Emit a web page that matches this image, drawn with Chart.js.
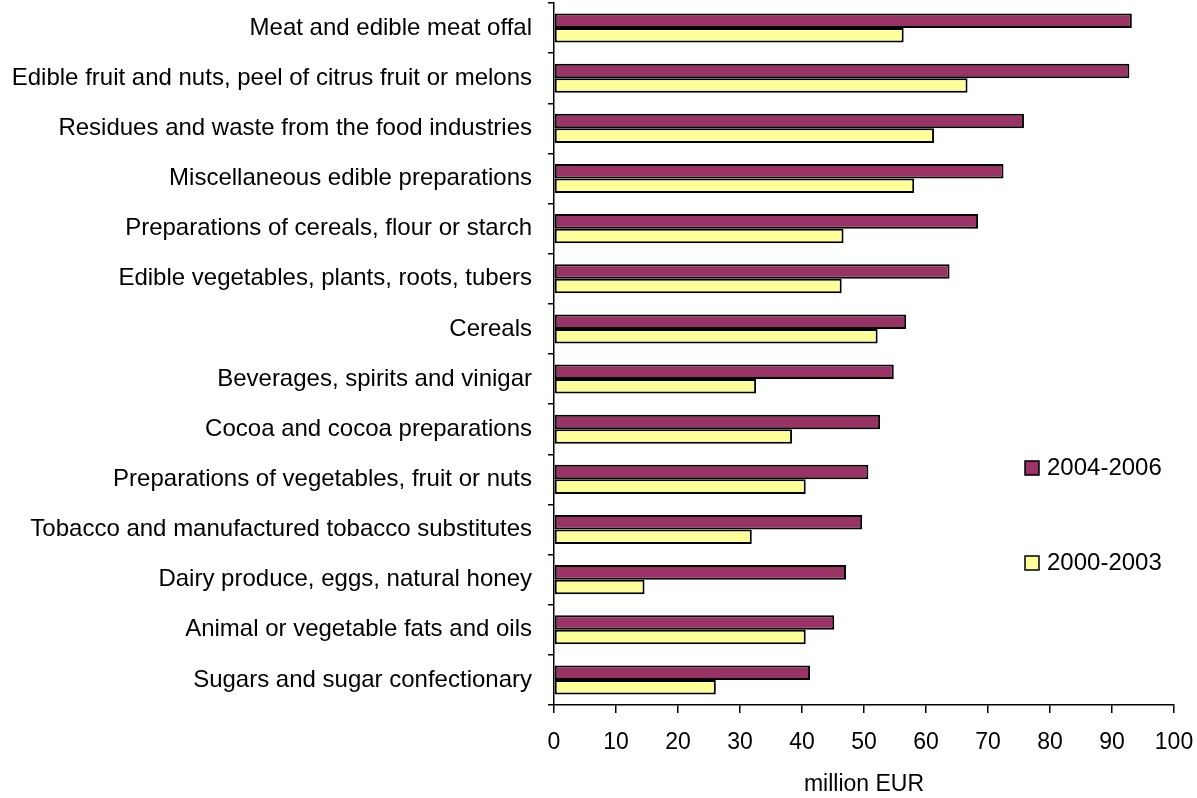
<!DOCTYPE html>
<html>
<head>
<meta charset="utf-8">
<script src="https://cdn.jsdelivr.net/npm/chart.js@4/dist/chart.umd.min.js"></script>
<style>
  html, body { margin: 0; padding: 0; background: #ffffff; }
  #wrap { width: 1197px; height: 798px; }
</style>
</head>
<body>
<div id="wrap"><canvas id="c" width="1197" height="798"></canvas></div>
<script>
const categories = [
  "Meat and edible meat offal",
  "Edible fruit and nuts, peel of citrus fruit or melons",
  "Residues and waste from the food industries",
  "Miscellaneous edible preparations",
  "Preparations of cereals, flour or starch",
  "Edible vegetables, plants, roots, tubers",
  "Cereals",
  "Beverages, spirits and vinigar",
  "Cocoa and cocoa preparations",
  "Preparations of vegetables, fruit or nuts",
  "Tobacco and manufactured tobacco substitutes",
  "Dairy produce, eggs, natural honey",
  "Animal or vegetable fats and oils",
  "Sugars and sugar confectionary"
];
const seriesNames = ["2004-2006", "2000-2003"];
const values2004_2006 = [93.2, 92.8, 75.8, 72.5, 68.4, 63.8, 56.8, 54.8, 52.6, 50.7, 49.7, 47.1, 45.2, 41.3];
const values2000_2003 = [56.4, 66.7, 61.3, 58.1, 46.7, 46.4, 52.2, 32.6, 38.4, 40.6, 31.9, 14.6, 40.6, 26.1];
const xTickValues = [0, 10, 20, 30, 40, 50, 60, 70, 80, 90, 100];
const axisTitle = "million EUR";

const FONT = "'Liberation Sans', Arial, sans-serif";

const innerLegend = {
  id: 'innerLegend',
  afterDraw(chart) {
    const ctx = chart.ctx;
    ctx.save();
    ctx.font = "24px " + FONT;
    ctx.textBaseline = 'middle';
    ctx.textAlign = 'left';
    chart.data.datasets.forEach((ds, i) => {
      const cy = 468 + i * 95;
      ctx.fillStyle = ds.backgroundColor;
      ctx.fillRect(1025, cy - 7, 14, 14);
      ctx.lineWidth = 1.5;
      ctx.strokeStyle = '#000';
      ctx.strokeRect(1025, cy - 7, 14, 14);
      ctx.fillStyle = '#000';
      ctx.fillText(ds.label, 1047, cy);
    });
    ctx.restore();
  }
};

new Chart(document.getElementById('c'), {
  type: 'bar',
  data: {
    labels: categories,
    datasets: [
      { label: seriesNames[0], data: values2004_2006, backgroundColor: '#993366', borderColor: '#000000', borderWidth: 2, borderSkipped: false },
      { label: seriesNames[1], data: values2000_2003, backgroundColor: '#FFFF99', borderColor: '#000000', borderWidth: 2, borderSkipped: false }
    ]
  },
  options: {
    indexAxis: 'y',
    responsive: false,
    animation: false,
    devicePixelRatio: 1,
    layout: { padding: { top: 3, right: 23, left: 0, bottom: 0 } },
    datasets: { bar: { categoryPercentage: 0.58, barPercentage: 1.0 } },
    plugins: {
      legend: { display: false },
      tooltip: { enabled: false }
    },
    scales: {
      x: {
        type: 'linear',
        min: 0, max: 100,
        afterBuildTicks(scale) { scale.ticks = xTickValues.map(v => ({ value: v })); },
        afterFit(scale) { scale.height = 93; scale.paddingLeft = 0; scale.paddingRight = 0; },
        grid: { drawOnChartArea: false, drawTicks: true, tickLength: 8, color: '#000', lineWidth: 1.5 },
        border: { display: true, color: '#000', width: 1.5 },
        ticks: { color: '#000', font: { family: FONT, size: 23 }, padding: 16, maxRotation: 0 },
        title: { display: true, text: axisTitle, color: '#000', font: { family: FONT, size: 23 }, padding: { top: 6, bottom: 0 } }
      },
      y: {
        afterFit(scale) { scale.width = 554; scale.paddingTop = 0; scale.paddingBottom = 0; },
        grid: { drawOnChartArea: false, drawTicks: true, tickLength: 6, color: '#000', lineWidth: 1.5, offset: true },
        border: { display: true, color: '#000', width: 1.5 },
        ticks: { color: '#000', font: { family: FONT, size: 24 }, padding: 16, autoSkip: false }
      }
    }
  },
  plugins: [innerLegend]
});
</script>
</body>
</html>
